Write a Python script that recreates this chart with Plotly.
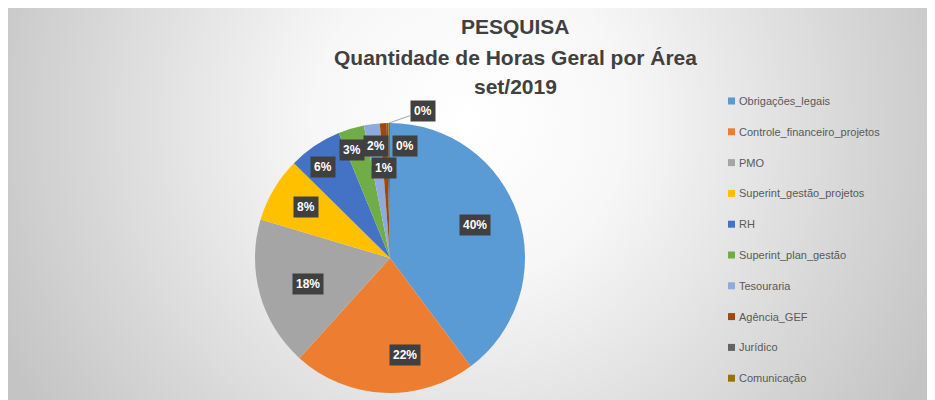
import base64
import math
import plotly.graph_objects as go

# ---------------- data ----------------
categories = [
    "Obrigações_legais",
    "Controle_financeiro_projetos",
    "PMO",
    "Superint_gestão_projetos",
    "RH",
    "Superint_plan_gestão",
    "Tesouraria",
    "Agência_GEF",
    "Jurídico",
    "Comunicação",
]
share_values = [39.8, 21.9, 17.9, 7.8, 6.4, 3.1, 1.9, 0.8, 0.2, 0.2]
title_lines = ["PESQUISA", "Quantidade de Horas Geral por Área", "set/2019"]

# ---------------- style ----------------
colors = ["#5B9BD5", "#ED7D31", "#A5A5A5", "#FFC000", "#4472C4",
          "#70AD47", "#8FAADC", "#9E480E", "#636363", "#997300"]
W, H = 935, 400
OFF = 8                              # page body margin
CX, CY, R = 390, 258, 135            # pie centre / radius in page pixels
label_rfrac = [0.68, 0.80, 0.85, 0.80, 0.85, 0.92, 0.92, 0.65, 0.82, 1.00]
label_dx = [-2, 20, 12, -4, -3, -2, 3, -2, 17, 0]
label_dy = [4, 0, -6, -4, -4, 0, 0, 2, 1, 0]
leader = [False] * 9 + [True]
leader_offset = (34, -12)
title_y = [27, 57, 86]

def px(x):
    return (x - OFF) / W

def py(y):
    return 1 - (y - OFF) / H

fig = go.Figure()

fig.add_trace(go.Pie(
    labels=categories,
    values=share_values,
    sort=False,
    direction="clockwise",
    rotation=0,
    marker=dict(colors=colors, line=dict(width=0)),
    textinfo="none",
    hoverinfo="label+percent",
    showlegend=False,
    domain=dict(x=[px(CX - R), px(CX + R)], y=[py(CY + R), py(CY - R)]),
))

# ---------------- data labels ----------------
total = sum(share_values)
cum = 0.0
annotations = []
for i, v in enumerate(share_values):
    mid = (cum + v / 2) / total * 2 * math.pi
    cum += v
    ax_px = CX + label_rfrac[i] * R * math.sin(mid)
    ay_px = CY - label_rfrac[i] * R * math.cos(mid)
    txt = "<b>%d%%</b>" % round(v / total * 100)
    common = dict(
        text=txt, xref="paper", yref="paper",
        x=px(ax_px), y=py(ay_px),
        font=dict(family="Liberation Sans", size=12, color="#ffffff"),
        bgcolor="#404040", borderpad=3,
    )
    if leader[i]:
        annotations.append(dict(
            **common, showarrow=True, arrowhead=0, arrowwidth=1,
            arrowcolor="#a6a6a6", standoff=0,
            ax=leader_offset[0], ay=leader_offset[1],
        ))
    else:
        annotations.append(dict(
            **common, showarrow=False,
            xshift=label_dx[i], yshift=label_dy[i],
        ))

# ---------------- title ----------------
for line, ty in zip(title_lines, title_y):
    annotations.append(dict(
        text="<b>" + line + "</b>",
        xref="paper", yref="paper", x=px(515), y=py(ty),
        xanchor="center", yanchor="middle", showarrow=False,
        font=dict(family="Liberation Sans", size=21, color="#404040"),
    ))

# ---------------- manual legend ----------------
shapes = []
LEG_X, LEG_Y0, LEG_STEP, SQ = 728, 101, 30.8, 7
for i, (name, col) in enumerate(zip(categories, colors)):
    yc = LEG_Y0 + i * LEG_STEP
    shapes.append(dict(
        type="rect", xref="paper", yref="paper",
        x0=px(LEG_X), x1=px(LEG_X + SQ),
        y0=py(yc + SQ / 2), y1=py(yc - SQ / 2),
        fillcolor=col, line=dict(width=0),
    ))
    annotations.append(dict(
        text=name, xref="paper", yref="paper",
        x=px(LEG_X + SQ + 1.5), y=py(yc), xanchor="left", yanchor="middle",
        showarrow=False,
        font=dict(family="Liberation Sans", size=11, color="#595959"),
    ))

# ---------------- background gradient ----------------
svg = (
    f"<svg xmlns='http://www.w3.org/2000/svg' width='{W}' height='{H}'>"
    "<defs><radialGradient id='g' gradientUnits='userSpaceOnUse' "
    "cx='462' cy='112' r='520'>"
    "<stop offset='0' stop-color='#ffffff'/>"
    "<stop offset='0.3' stop-color='#f7f7f7'/>"
    "<stop offset='1' stop-color='#c4c4c4'/>"
    "</radialGradient></defs>"
    f"<rect width='{W}' height='{H}' fill='url(#g)'/></svg>"
)
src = "data:image/svg+xml;base64," + base64.b64encode(svg.encode()).decode()

fig.update_layout(
    width=W, height=H, autosize=False,
    margin=dict(l=0, r=0, t=0, b=0),
    paper_bgcolor="#d9d9d9",
    annotations=annotations,
    shapes=shapes,
    images=[dict(
        source=src, xref="paper", yref="paper",
        x=0, y=1, sizex=1, sizey=1,
        xanchor="left", yanchor="top", sizing="stretch", layer="below",
    )],
)

fig.write_html("out.html")
